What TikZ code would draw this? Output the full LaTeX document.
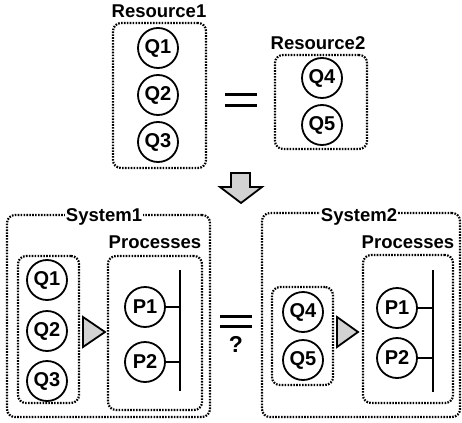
\documentclass[tikz,border=0pt]{standalone}
\usepackage{fontspec}
\setmainfont{Liberation Sans}
\tikzset{
  res/.style={circle, draw, line width=1.8pt, minimum size=40pt, inner sep=0pt,
    font=\bfseries\fontsize{20}{20}\selectfont},
  grp/.style={draw, rounded corners=8pt, line width=2.2pt,
    dash pattern=on 1.6pt off 1.3pt, inner sep=0pt},
  ttl/.style={font=\bfseries\fontsize{18.5}{18}\selectfont, inner sep=1pt},
  flow/.style={draw, line width=1.8pt, fill=gray!35, line join=miter},
  eq/.style={line width=3pt},
}
\begin{document}
\begin{tikzpicture}[x=1pt, y=-1pt]
      \useasboundingbox (0,0) rectangle (462,422);
      % resources
      \node[grp, minimum width=93pt, minimum height=145pt] (R1) at (159.5,95.5) {};
      \node[ttl] (R1t) at (159,11) {Resource1};
      \node[res] (Q1) at (158,48) {Q1};
      \node[res] (Q2) at (158,95) {Q2};
      \node[res] (Q3) at (158,142) {Q3};
      \node[grp, minimum width=92pt, minimum height=94pt] (R2) at (321,102) {};
      \node[ttl] (R2t) at (318,43) {Resource2};
      \node[res] (Q4) at (322,78) {Q4};
      \node[res] (Q5) at (322,125) {Q5};
      \draw[eq] (225,95) -- (257,95);
      \draw[eq] (225,106) -- (257,106);
      \draw[flow] (231,173) -- (250,173) -- (250,187) -- (262,187) -- (241,203)
        -- (220,187) -- (231,187) -- cycle;
      % system 1
      \node[grp, minimum width=203pt, minimum height=202pt] (S1) at (108.5,316) {};
      \node[ttl, fill=white] (S1t) at (104,217) {System1};
      \node[grp, minimum width=61pt, minimum height=147pt] (S1q) at (48.5,329.5) {};
      \node[res] (S1Q1) at (47,280) {Q1};
      \node[res] (S1Q2) at (47,331) {Q2};
      \node[res] (S1Q3) at (47,381) {Q3};
      \draw[flow] (83,317) -- (105,332) -- (83,347) -- cycle;
      \node[ttl] (S1pt) at (155,242) {Processes};
      \node[grp, minimum width=94pt, minimum height=154pt] (S1p) at (155,333) {};
      \node[res] (S1P1) at (145,307) {P1};
      \node[res] (S1P2) at (145,362) {P2};
      \coordinate (bar1t) at (180,270);
      \coordinate (bar1b) at (180,391);
      \draw[line width=1.8pt] (bar1t) -- (bar1b);
      \draw[line width=1.8pt] (S1P1.east) -- (S1P1.east -| bar1t);
      \draw[line width=1.8pt] (S1P2.east) -- (S1P2.east -| bar1t);
      \draw[eq] (220,316) -- (252,316);
      \draw[eq] (220,326) -- (252,326);
      \node[ttl, font=\bfseries\fontsize{23}{23}\selectfont] (ask) at (236,344) {?};
      % system 2
      \node[grp, minimum width=198pt, minimum height=204pt] (S2) at (361,315) {};
      \node[ttl, fill=white] (S2t) at (359,217) {System2};
      \node[grp, minimum width=61pt, minimum height=98pt] (S2q) at (302.5,336) {};
      \node[res] (S2Q4) at (303,312) {Q4};
      \node[res] (S2Q5) at (303,360) {Q5};
      \draw[flow] (337,317) -- (358,332) -- (337,347) -- cycle;
      \node[ttl] (S2pt) at (408,242) {Processes};
      \node[grp, minimum width=90pt, minimum height=148pt] (S2p) at (408,329) {};
      \node[res] (S2P1) at (397,308) {P1};
      \node[res] (S2P2) at (397,358) {P2};
      \coordinate (bar2t) at (433,270);
      \coordinate (bar2b) at (433,392);
      \draw[line width=1.8pt] (bar2t) -- (bar2b);
      \draw[line width=1.8pt] (S2P1.east) -- (S2P1.east -| bar2t);
      \draw[line width=1.8pt] (S2P2.east) -- (S2P2.east -| bar2t);
\end{tikzpicture}
\end{document}
